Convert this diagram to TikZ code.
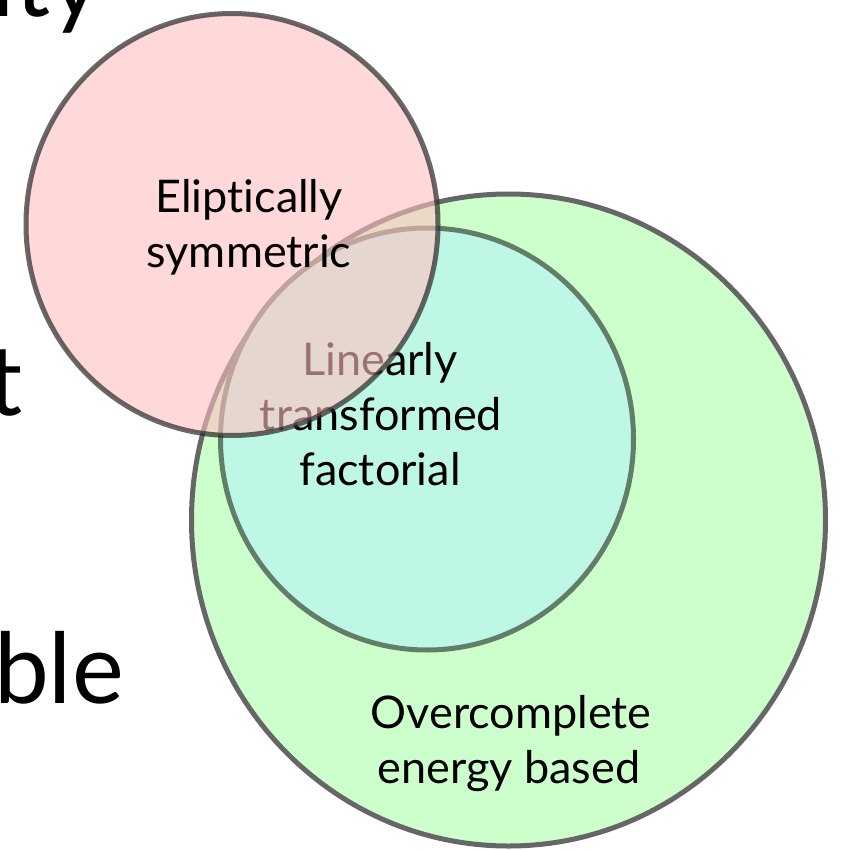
\documentclass[tikz,border=0pt]{standalone}
\usepackage{fontspec}
\setmainfont{Lato}[Ligatures=NoCommon]
\definecolor{pinkfill}{RGB}{255,192,192}
\definecolor{greenfill}{RGB}{204,255,204}
\definecolor{cyanfill}{RGB}{191,247,230}
\definecolor{rimgrey}{RGB}{102,102,102}
\definecolor{cyanrim}{RGB}{98,125,104}
\definecolor{pinkrim}{RGB}{40,40,40}
\tikzset{
  lbl/.style={font=\fontsize{45}{55}\selectfont, inner sep=0pt, anchor=base, text=black},
  bigtxt/.style={font=\fontsize{98}{110}\selectfont, inner sep=0pt, anchor=base east, text=black},
  rim/.style={line width=5pt}
}
\begin{document}
\begin{tikzpicture}[x=1pt,y=-1pt]
\useasboundingbox (0,0) rectangle (840,850);
\fill[white] (0,0) rectangle (840,850);
\clip (0,0) rectangle (840,850);
% left cropped text
\node[bigtxt] (ity) at (101,17) {ity};
\node[bigtxt] (t) at (23,415) {t};
\node[bigtxt] (ble) at (124,703) {ble};
% big green
\draw[rim, draw=rimgrey, fill=greenfill] (508.5,520) ellipse [x radius=317pt, y radius=326pt];
% inner cyan
\draw[rim, draw=cyanrim, fill=cyanfill] (427,439) ellipse [x radius=206.5pt, y radius=211pt];
\node[lbl] (lin1) at (380,375) {Linearly};
\node[lbl] (lin2) at (381,430) {transformed};
\node[lbl] (lin3) at (380,485) {factorial};
% pink, translucent
\draw[rim, draw=pinkrim, draw opacity=0.7, fill=pinkfill, fill opacity=0.6] (232,224.5) ellipse [x radius=206pt, y radius=211pt];
\node[lbl] (ell1) at (249,212) {Eliptically};
\node[lbl] (ell2) at (249,267) {symmetric};
\node[lbl] (ov1) at (511,728) {Overcomplete};
\node[lbl] (ov2) at (509,783) {energy based};
\end{tikzpicture}
\end{document}
